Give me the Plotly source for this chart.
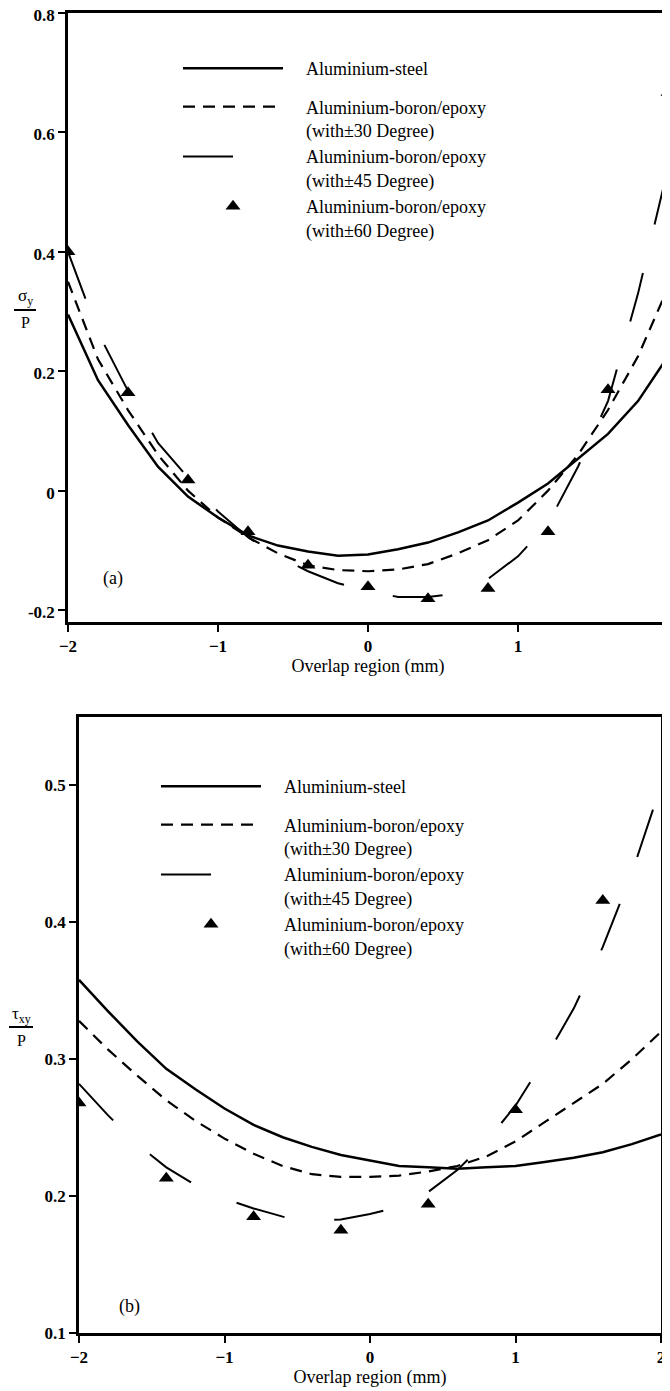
import plotly.graph_objects as go

# ---------------- data ----------------
x_curve = [-2.0, -1.8, -1.6, -1.4, -1.2, -1.0, -0.8, -0.6, -0.4, -0.2, 0.0,
           0.2, 0.4, 0.6, 0.8, 1.0, 1.2, 1.4, 1.6, 1.8, 2.0]

# (a) sigma_y / P
a_steel = [0.295, 0.185, 0.110, 0.040, -0.010, -0.045, -0.075, -0.092, -0.102, -0.109, -0.107,
           -0.098, -0.087, -0.070, -0.050, -0.020, 0.012, 0.053, 0.095, 0.150, 0.225]
a_deg30 = [0.350, 0.220, 0.135, 0.060, 0.000, -0.045, -0.078, -0.105, -0.125, -0.133, -0.135,
           -0.132, -0.123, -0.105, -0.083, -0.050, 0.000, 0.060, 0.135, 0.225, 0.340]
a_deg45 = [0.400, 0.265, 0.167, 0.080, 0.022, -0.035, -0.078, -0.110, -0.135, -0.155, -0.168,
           -0.178, -0.178, -0.172, -0.148, -0.110, -0.055, 0.040, 0.150, 0.330, 0.540]
a_x60 = [-2.0, -1.6, -1.2, -0.8, -0.4, 0.0, 0.4, 0.8, 1.2, 1.6, 2.0]
a_deg60 = [0.400, 0.164, 0.018, -0.069, -0.125, -0.161, -0.181, -0.164, -0.069, 0.169, 0.667]

# (b) tau_xy / P
b_steel = [0.358, 0.335, 0.313, 0.293, 0.278, 0.264, 0.252, 0.243, 0.236, 0.230, 0.226,
           0.222, 0.221, 0.220, 0.221, 0.222, 0.225, 0.228, 0.232, 0.238, 0.245]
b_deg30 = [0.328, 0.307, 0.288, 0.270, 0.255, 0.242, 0.231, 0.222, 0.216, 0.214, 0.214,
           0.215, 0.218, 0.222, 0.229, 0.240, 0.254, 0.268, 0.282, 0.300, 0.320]
b_deg45 = [0.282, 0.259, 0.238, 0.221, 0.208, 0.198, 0.191, 0.185, 0.182, 0.183, 0.187,
           0.192, 0.203, 0.219, 0.240, 0.266, 0.300, 0.337, 0.382, 0.436, 0.500]
b_x60 = [-2.0, -1.4, -0.8, -0.2, 0.4, 1.0, 1.6]
b_deg60 = [0.268, 0.213, 0.185, 0.175, 0.194, 0.263, 0.416]

PAD = "\u00a0" * 4
names = [PAD + "Aluminium-steel",
         PAD + "Aluminium-boron/epoxy<br>" + PAD + "(with\u00b130 Degree)",
         PAD + "Aluminium-boron/epoxy<br>" + PAD + "(with\u00b145 Degree)",
         PAD + "Aluminium-boron/epoxy<br>" + PAD + "(with\u00b160 Degree)"]

x_ticks = [-2, -1, 0, 1, 2]
a_yticks = [-0.2, 0, 0.2, 0.4, 0.6, 0.8]
a_ylabels = ["-0.2", "0", "0.2", "0.4", "0.6", "0.8"]
b_yticks = [0.1, 0.2, 0.3, 0.4, 0.5]
b_ylabels = ["0.1", "0.2", "0.3", "0.4", "0.5"]
x_title = "Overlap region (mm)"

FONT = "Liberation Serif"
W, H = 670, 1391
OFF = 8  # page body margin offset


def px_x(v):
    return (v - OFF) / W


def px_y(v):
    return 1 - (v - OFF) / H


fig = go.Figure()


def add_panel(xa, ya, leg, steel, d30, d45, x60, d60):
    fig.add_trace(go.Scatter(x=x_curve, y=steel, mode="lines", name=names[0],
                             legendgroup=leg + "a",
                             line=dict(color="black", width=2.5), xaxis=xa, yaxis=ya, legend=leg))
    fig.add_trace(go.Scatter(x=x_curve, y=d30, mode="lines", name=names[1],
                             legendgroup=leg + "b",
                             line=dict(color="black", width=2.2, dash="12px,8px"),
                             xaxis=xa, yaxis=ya, legend=leg))
    fig.add_trace(go.Scatter(x=x_curve, y=d45, mode="lines", name=names[2],
                             legendgroup=leg + "b",
                             line=dict(color="black", width=2.0, dash="50px,50px"),
                             xaxis=xa, yaxis=ya, legend=leg))
    fig.add_trace(go.Scatter(x=x60, y=d60, mode="markers", name=names[3],
                             legendgroup=leg + "b",
                             marker=dict(symbol="triangle-up", size=13, color="black"),
                             xaxis=xa, yaxis=ya, legend=leg))


add_panel("x", "y", "legend", a_steel, a_deg30, a_deg45, a_x60, a_deg60)
add_panel("x2", "y2", "legend2", b_steel, b_deg30, b_deg45, b_x60, b_deg60)

axis_common = dict(showline=True, linecolor="black", linewidth=2.5,
                   ticks="outside", ticklen=7, tickwidth=2, tickcolor="black",
                   showgrid=False, zeroline=False, automargin=False,
                   ticklabeloverflow="allow",
                   tickfont=dict(family=FONT, size=17, color="black", weight="bold"))

leg_common = dict(xanchor="left", yanchor="top", valign="top", itemwidth=100,
                  traceorder="grouped", tracegroupgap=12,
                  font=dict(family=FONT, size=18, color="black"),
                  bgcolor="rgba(0,0,0,0)")

fig.update_layout(
    width=W, height=H, autosize=False,
    margin=dict(l=0, r=0, t=0, b=0, pad=0, autoexpand=False),
    paper_bgcolor="white", plot_bgcolor="white",
    font=dict(family=FONT, color="black"),
    xaxis=dict(domain=[px_x(68), px_x(668)], range=[-2, 2], tickvals=x_ticks, mirror=True,
               title=dict(text=x_title, font=dict(family=FONT, size=18), standoff=2),
               anchor="y", **axis_common),
    yaxis=dict(domain=[px_y(622), px_y(13)], range=[-0.22, 0.8], mirror=False,
               ticklabelshift=2,
               tickvals=a_yticks, ticktext=a_ylabels, anchor="x", **axis_common),
    xaxis2=dict(domain=[px_x(79), px_x(661)], range=[-2, 2], tickvals=x_ticks, mirror=True,
                title=dict(text=x_title, font=dict(family=FONT, size=18), standoff=2),
                anchor="y2", **axis_common),
    yaxis2=dict(domain=[px_y(1333), px_y(717)], range=[0.1, 0.55], mirror=True,
                tickvals=b_yticks, ticktext=b_ylabels, anchor="x2", **axis_common),
    legend=dict(x=px_x(178), y=px_y(50), **leg_common),
    legend2=dict(x=px_x(156), y=px_y(768), **leg_common),
)

# thin right frame edge of panel (a)
fig.add_shape(type="line", xref="x domain", yref="y domain", x0=1, x1=1, y0=0, y1=1,
              line=dict(color="#555555", width=1.2))

# panel labels
fig.add_annotation(x=-1.7, y=-0.147, xref="x", yref="y", text="(a)", showarrow=False,
                   font=dict(family=FONT, size=18))
fig.add_annotation(x=-1.65, y=0.119, xref="x2", yref="y2", text="(b)", showarrow=False,
                   font=dict(family=FONT, size=18))


# y-axis fraction titles
def frac(num, xc, y_num, y_bar, y_den, half):
    fig.add_annotation(x=px_x(xc), y=px_y(y_num), xref="paper", yref="paper", text=num,
                       xanchor="center", yanchor="middle",
                       showarrow=False, font=dict(family=FONT, size=17))
    fig.add_annotation(x=px_x(xc), y=px_y(y_den), xref="paper", yref="paper", text="P",
                       xanchor="center", yanchor="middle",
                       showarrow=False, font=dict(family=FONT, size=16))
    fig.add_shape(type="line", xref="paper", yref="paper",
                  x0=px_x(xc - half), x1=px_x(xc + half), y0=px_y(y_bar), y1=px_y(y_bar),
                  line=dict(color="black", width=2))


frac("\u03c3<sub>y</sub>", 25, 297, 310, 323, 11)
frac("\u03c4<sub>xy</sub>", 21, 1015, 1027, 1040, 12)

fig.write_html("out.html")
